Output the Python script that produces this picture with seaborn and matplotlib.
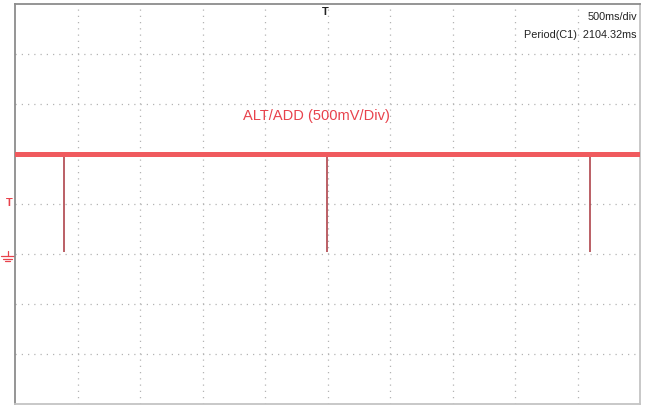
"""
Scope capture redraw: ALT/ADD channel, 500 ms/div, 500 mV/div.
Flat ~1 V level with short dips to ground once per period.
"""
import matplotlib
matplotlib.use("Agg")
import matplotlib.pyplot as plt
from matplotlib.lines import Line2D
import pandas as pd
import seaborn as sns

# ---------------------------
# data (time in ms, level in V relative to ground)
# ---------------------------
trace_time = [0, 5000]
trace_level = [1.0, 1.0]
dip_times = [392, 2496, 4600]
dip_floor = [0.02, 0.02, 0.02]

time_per_div = 500      # ms
volts_per_div = 0.5     # V
n_xdiv, n_ydiv = 10, 8
ground_div = 3          # divisions above bottom edge
trigger_level = 0.52    # V
trigger_time = 2480     # ms

period_label = "Period(C1)  2104.32ms"
timebase_label = "500ms/div"
channel_label = "ALT/ADD (500mV/Div)"

TRACE_COLOR = "#f05a5e"
DIP_COLOR = "#a8343c"
GRID_COLOR = "#b4b4b4"
LABEL_RED = "#e8424c"

sns.set_style("white")
plt.rcParams["font.family"] = ["Liberation Sans", "DejaVu Sans"]

fig = plt.figure(figsize=(6.45, 4.10), dpi=100)
ax = fig.add_axes([15 / 645, 5 / 410, 625 / 645, 400 / 410])

ymin = -ground_div * volts_per_div
ymax = (n_ydiv - ground_div) * volts_per_div
ax.set_xlim(0, n_xdiv * time_per_div)
ax.set_ylim(ymin, ymax)

# graticule
for i in range(1, n_xdiv):
    ax.axvline(i * time_per_div, color=GRID_COLOR, lw=0.9, ls=(0, (1, 4)), zorder=1)
for j in range(1, n_ydiv):
    ax.axhline(ymin + j * volts_per_div, color=GRID_COLOR, lw=0.9, ls=(0, (1, 4)), zorder=1)

# signal
df = pd.DataFrame({"t": trace_time, "v": trace_level})
sns.lineplot(data=df, x="t", y="v", color=TRACE_COLOR, lw=3.6, ax=ax, zorder=3)
ax.vlines(dip_times, dip_floor, trace_level[0], color=DIP_COLOR, lw=1.1, zorder=2)

ax.set_xticks([])
ax.set_yticks([])
ax.set_xlabel("")
ax.set_ylabel("")
for side, sp in ax.spines.items():
    sp.set_visible(True)
    sp.set_color("#8c8c8c" if side in ("left", "top") else "#c4c4c4")
    sp.set_linewidth(1.3)

# labels
ax.text(0.995, 0.983, timebase_label, transform=ax.transAxes, ha="right", va="top",
        fontsize=7.8, color="#222222")
ax.text(0.995, 0.938, period_label, transform=ax.transAxes, ha="right", va="top",
        fontsize=7.8, color="#222222")
ax.text(1824, 1.39, channel_label, ha="left", va="center", fontsize=10.5, color=LABEL_RED)

# trigger position marker (top)
ax.text(trigger_time, ymax - 0.02, "T", ha="center", va="top", fontsize=8,
        color="#222222", fontweight="bold", clip_on=False)
# trigger level marker (left)
ax.text(-0.009, trigger_level, "T", transform=ax.get_yaxis_transform(), ha="center",
        va="center", fontsize=8, color=LABEL_RED, fontweight="bold", clip_on=False)
# ground marker (left)
gy = 0.0
for k, half in enumerate([0.010, 0.007, 0.004]):
    ax.add_line(Line2D([-0.012 - half, -0.012 + half], [gy - 0.02 - k * 0.025] * 2,
                       transform=ax.get_yaxis_transform(), color=LABEL_RED, lw=0.9,
                       clip_on=False))
ax.add_line(Line2D([-0.012, -0.012], [gy - 0.02, gy + 0.03], transform=ax.get_yaxis_transform(),
                   color=LABEL_RED, lw=0.9, clip_on=False))

fig.savefig("out.png", dpi=100)
